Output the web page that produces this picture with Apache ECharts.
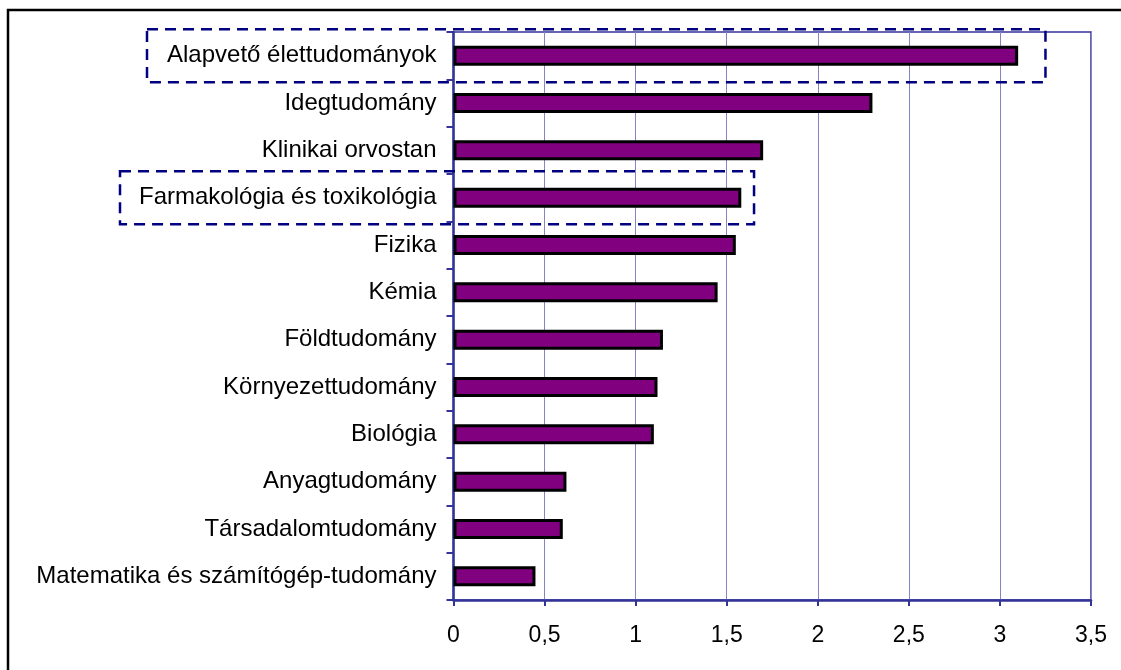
<!DOCTYPE html>
<html>
<head>
<meta charset="utf-8">
<script src="https://cdn.jsdelivr.net/npm/echarts@6/dist/echarts.min.js"></script>
<style>
html,body{margin:0;padding:0;background:#fff;}
#chart{width:1121px;height:670px;}
</style>
</head>
<body>
<div id="chart"></div>
<script>
const categories = [
  "Alapvető élettudományok",
  "Idegtudomány",
  "Klinikai orvostan",
  "Farmakológia és toxikológia",
  "Fizika",
  "Kémia",
  "Földtudomány",
  "Környezettudomány",
  "Biológia",
  "Anyagtudomány",
  "Társadalomtudomány",
  "Matematika és számítógép-tudomány"
];
const values = [3.10, 2.30, 1.70, 1.58, 1.55, 1.45, 1.15, 1.12, 1.10, 0.62, 0.60, 0.45];
const highlighted = ["Alapvető élettudományok", "Farmakológia és toxikológia"];
const highlightRightValue = [3.25, 1.65];

const chart = echarts.init(document.getElementById('chart'));
const FONT = "'Liberation Sans', Arial, sans-serif";
const AXIS = '#333399';

chart.setOption({
  animation: false,
  backgroundColor: '#ffffff',
  grid: {
    left: 453.5, right: 30, top: 32, bottom: 70,
    show: true, borderColor: AXIS, borderWidth: 1.5, backgroundColor: 'transparent'
  },
  xAxis: {
    type: 'value', min: 0, max: 3.5, interval: 0.5,
    axisLine: {show: true, lineStyle: {color: AXIS, width: 2.5}},
    axisTick: {show: true, length: 6, lineStyle: {color: AXIS, width: 2}},
    splitLine: {show: true, lineStyle: {color: '#8585c6', width: 1}},
    axisLabel: {
      color: '#000', fontFamily: FONT, fontSize: 23, margin: 24,
      formatter: v => String(v).replace('.', ',')
    }
  },
  yAxis: {
    type: 'category', data: categories, inverse: true,
    axisLine: {show: true, lineStyle: {color: AXIS, width: 2.5}},
    axisTick: {show: true, length: 7, lineStyle: {color: AXIS, width: 2}},
    splitLine: {show: false},
    axisLabel: {color: '#000', fontFamily: FONT, fontSize: 24, margin: 17}
  },
  series: [{
    type: 'bar', data: values, barWidth: 20,
    itemStyle: {color: '#800080', borderColor: '#000', borderWidth: 3}
  }]
});

// annotation boxes and outer frame
const graphics = [{
  type: 'rect', shape: {x: 8, y: 10, width: 1200, height: 800},
  style: {fill: 'none', stroke: '#000', lineWidth: 2.5}, silent: true
}];
const leftEdges = [147, 120];
highlighted.forEach((name, i) => {
  const yc = chart.convertToPixel({yAxisIndex: 0}, name);
  const xr = chart.convertToPixel({xAxisIndex: 0}, highlightRightValue[i]);
  const xl = leftEdges[i];
  graphics.push({
    type: 'rect', z: 100,
    shape: {x: xl, y: yc - 26.5, width: xr - xl, height: 53},
    style: {fill: 'none', stroke: '#000080', lineWidth: 2.5, lineDash: [11, 7]},
    silent: true
  });
});
chart.setOption({graphic: graphics});
</script>
</body>
</html>
